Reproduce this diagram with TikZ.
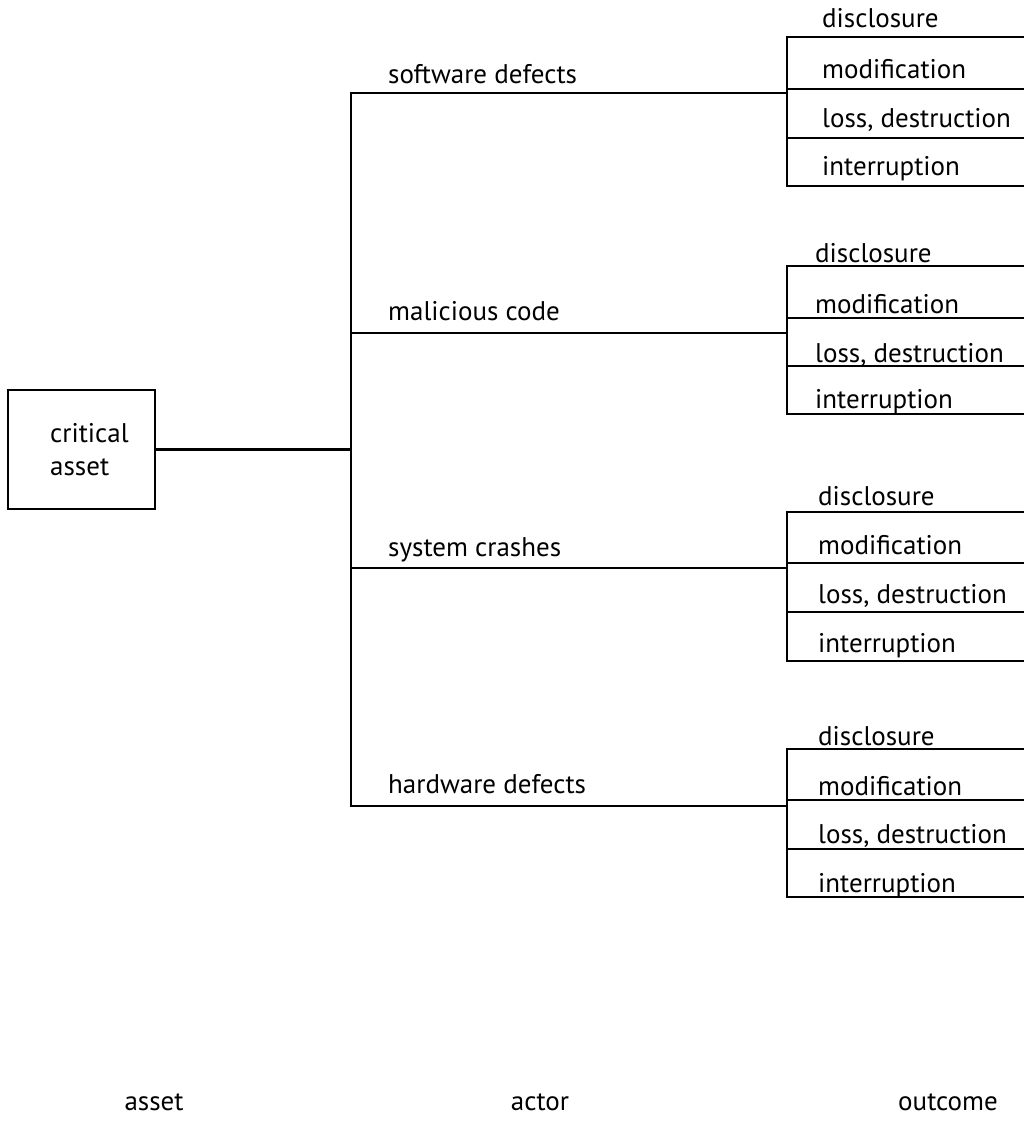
\documentclass[tikz,border=0pt]{standalone}
\usepackage{fontspec}
\setmainfont{PT Sans}
\begin{document}
\begin{tikzpicture}[x=1pt,y=-1pt,
  wire/.style={line width=2.2pt, line cap=rect},
  lbl/.style={anchor=base west, inner sep=0pt, font=\fontsize{27}{31}\selectfont},
  axis/.style={anchor=base, inner sep=0pt, font=\fontsize{27}{31}\selectfont},
  assetbox/.style={draw, line width=2.2pt, minimum width=147pt, minimum height=119pt, inner sep=0pt}]
\useasboundingbox (0,0) rectangle (1024,1124);
% asset box
\node[assetbox] (asset) at (81.5,449.5) {};
\node[lbl] (crit) at (50,442) {critical};
\node[lbl] (ass) at (50,475) {asset};
% trunk
\coordinate (ttop) at (351,93);
\coordinate (tbot) at (351,806);
\coordinate (hub) at (asset.east -| ttop);
\draw[wire] (asset.east) -- (hub);
\draw[wire] (ttop) -- (tbot);
% actor branches
\foreach \n/\y/\b/\t in {a1/93/83/software defects, a2/333/320/malicious code, a3/568/556/system crashes, a4/806/793/hardware defects}{
  \coordinate (\n l) at (351,\y);
  \coordinate (\n r) at (787,\y);
  \draw[wire] (\n l) -- (\n r);
  \node[lbl] (\n t) at (388,\b) {\t};
}
% outcome groups
\foreach \g/\ya/\yb/\yc/\yd/\tx/\ba/\bb/\bc/\bd in {
  g1/37/89/138/186/822/28/78/127/175,
  g2/266/318/366/414/815/262/313/362/408,
  g3/512/563/612/661/818/505/554/603/652,
  g4/749/800/849/897/818/745/795/843/892}{
  \coordinate (\g top) at (787,\ya);
  \coordinate (\g bot) at (787,\yd);
  \draw[wire] (\g top) -- (\g bot);
  \foreach \k/\yy in {1/\ya,2/\yb,3/\yc,4/\yd}{
    \coordinate (\g s\k) at (787,\yy);
    \coordinate (\g e\k) at (1024,\yy);
    \draw[wire] (\g s\k) -- (\g e\k);
  }
  \node[lbl] (\g o1) at (\tx,\ba) {disclosure};
  \node[lbl] (\g o2) at (\tx,\bb) {modification};
  \node[lbl] (\g o3) at (\tx,\bc) {loss, destruction};
  \node[lbl] (\g o4) at (\tx,\bd) {interruption};
}
% column labels
\node[axis] (cola) at (154,1110) {asset};
\node[axis] (colb) at (540,1110) {actor};
\node[axis] (colc) at (948,1110) {outcome};
\end{tikzpicture}
\end{document}
